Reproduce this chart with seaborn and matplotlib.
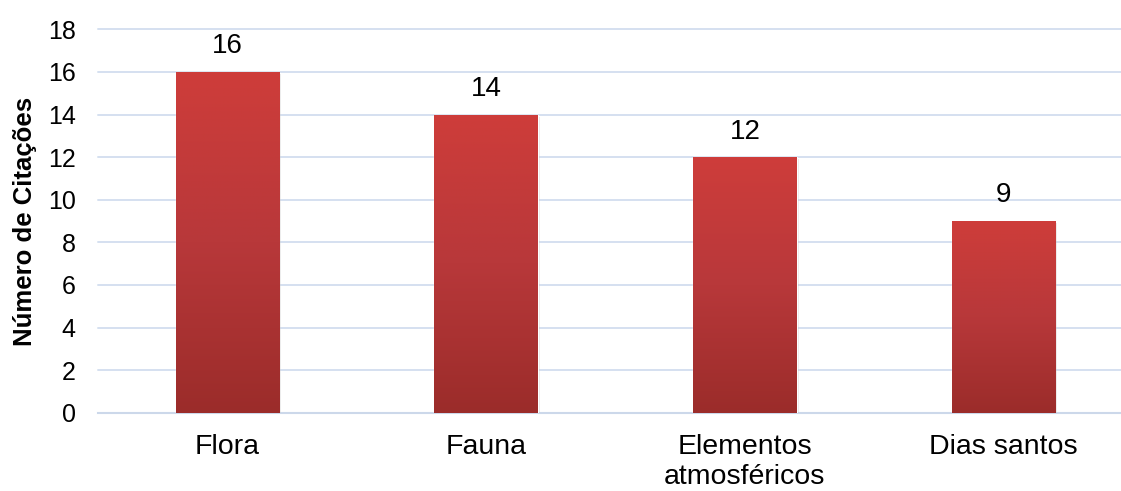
import numpy as np
import pandas as pd
import matplotlib
matplotlib.use("Agg")
import matplotlib.pyplot as plt
import matplotlib.patheffects as pe
from matplotlib.colors import LinearSegmentedColormap
import seaborn as sns

categories = ["Flora", "Fauna", "Elementos\natmosféricos", "Dias santos"]
values = [16, 14, 12, 9]
y_ticks = [0, 2, 4, 6, 8, 10, 12, 14, 16, 18]
y_label = "Número de Citações"

sns.set_theme(style="white")
plt.rcParams["font.family"] = ["Liberation Sans", "DejaVu Sans"]
plt.rcParams["text.color"] = "black"
plt.rcParams["xtick.color"] = "black"
plt.rcParams["ytick.color"] = "black"
plt.rcParams["axes.labelcolor"] = "black"

df = pd.DataFrame({"cat": categories, "val": values})

fig = plt.figure(figsize=(11.21, 4.91), dpi=100)
ax = fig.add_axes([98 / 1121, 1 - 412.7 / 491, (1133 - 98) / 1121, (412.7 - 29.3) / 491])

sns.barplot(data=df, x="cat", y="val", color="#C0393A", width=0.4, ax=ax,
            saturation=1, zorder=3)

ax.set_ylim(0, 18)
ax.set_xlim(-0.5, 3.5)
ax.set_yticks(y_ticks)
ax.set_yticklabels([str(t) for t in y_ticks], fontsize=18)
ax.tick_params(axis="y", length=0, pad=16)
ax.tick_params(axis="x", length=0, pad=15, labelsize=20.5)
for lbl in ax.get_xticklabels():
    lbl.set_linespacing(1.2)
    lbl.set_verticalalignment("top")

ax.yaxis.grid(True, color="#D5E0F0", linewidth=1.4, zorder=0)
for gl in ax.get_ygridlines():
    gl.set_clip_on(False)
ax.set_axisbelow(True)
for s in ["top", "right", "left"]:
    ax.spines[s].set_visible(False)
ax.spines["bottom"].set_color("#CCD8EA")
ax.spines["bottom"].set_linewidth(1.5)

ax.set_xlabel("")
ax.set_ylabel(y_label, fontsize=18.5, fontweight="bold", labelpad=8)

cmap = LinearSegmentedColormap.from_list("g", ["#9B2C2A", "#B8383A", "#CE3D3A"])
grad = np.linspace(0, 1, 256).reshape(-1, 1)
for bar, v in zip(ax.patches, values):
    x0, y0 = bar.get_x(), bar.get_y()
    w, h = bar.get_width(), bar.get_height()
    bar.set_path_effects([pe.SimplePatchShadow(offset=(1.5, -1.5), alpha=0.18, shadow_rgbFace="gray"),
                          pe.Normal()])
    im = ax.imshow(grad, extent=[x0, x0 + w, y0, y0 + h], origin="lower",
                   cmap=cmap, aspect="auto", zorder=4)
    im.set_clip_path(bar)
    ax.annotate(str(v), (x0 + w / 2, y0 + h), xytext=(0, 9), textcoords="offset points",
                ha="center", va="bottom", fontsize=20, color="black", zorder=5)

ax.set_xlim(-0.5, 3.5)
ax.set_ylim(0, 18)

fig.savefig("out.png", dpi=100)
